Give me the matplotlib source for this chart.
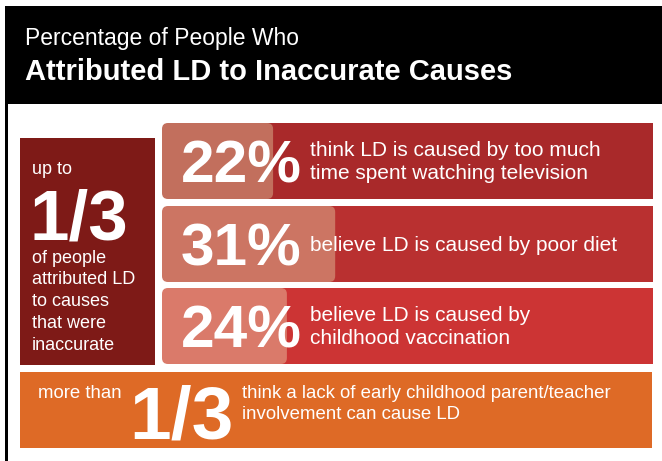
import matplotlib.pyplot as plt
from matplotlib.patches import Rectangle, FancyBboxPatch

# data
title_lines = ["Percentage of People Who", "Attributed LD to Inaccurate Causes"]
left_top = "up to"
left_big = "1/3"
left_bottom = ["of people", "attributed LD", "to causes", "that were", "inaccurate"]
pct_values = [22, 31, 24]
pct_labels = [
    "think LD is caused by too much\ntime spent watching television",
    "believe LD is caused by poor diet",
    "believe LD is caused by\nchildhood vaccination",
]
bottom_pre = "more than"
bottom_big = "1/3"
bottom_text = "think a lack of early childhood parent/teacher\ninvolvement can cause LD"

row_colors = ["#A9292A", "#B93030", "#CC3434"]
light_colors = ["#C26F5D", "#CC7563", "#DA7A6A"]
dark_red = "#7E1A17"
orange = "#DE6A26"

plt.rcParams["font.family"] = ["Liberation Sans", "DejaVu Sans"]

fig = plt.figure(figsize=(6.62, 4.61), dpi=100)
ax = fig.add_axes([0, 0, 1, 1])
ax.set_xlim(0, 662)
ax.set_ylim(461, 0)
ax.axis("off")

# header + left frame line
ax.add_patch(Rectangle((5, 6), 657, 98, color="black", lw=0))
ax.add_patch(Rectangle((5, 104), 2.5, 357, color="black", lw=0))
ax.text(25, 38, title_lines[0], color="white", fontsize=16.5, va="center")
ax.text(25, 72, title_lines[1], color="white", fontsize=21, fontweight="bold", va="center")

# left summary box
ax.add_patch(Rectangle((20, 138), 135, 227, color=dark_red, lw=0))
ax.text(32, 169, left_top, color="white", fontsize=13, va="center")
ax.text(29, 239, left_big, color="white", fontsize=51, fontweight="bold", va="baseline")
for i, line in enumerate(left_bottom):
    ax.text(32, 258 + i * 21.8, line, color="white", fontsize=13, va="center")

# rows, light box width scales with the percentage
row_x0, row_x1 = 162, 653
row_tops = [123, 206, 288]
row_h = 76
px_per_pct, pct_zero = 6.9, 5.9
for top, v, label, c, lc in zip(row_tops, pct_values, pct_labels, row_colors, light_colors):
    ax.add_patch(Rectangle((row_x0 + 6, top), row_x1 - row_x0 - 6, row_h, color=c, lw=0))
    w = (v - pct_zero) * px_per_pct
    ax.add_patch(FancyBboxPatch((row_x0, top), w, row_h,
                                boxstyle="round,pad=0,rounding_size=6", color=lc, lw=0))
    cy = top + row_h / 2
    ax.text(181, cy + 21, f"{v}%", color="white", fontsize=43.5, fontweight="bold", va="baseline")
    ax.text(310, cy + 1, label, color="white", fontsize=15, va="center", linespacing=1.25)

# bottom orange band
ax.add_patch(Rectangle((20, 372), 632, 76, color=orange, lw=0))
ax.text(38, 393, bottom_pre, color="white", fontsize=13.4, va="center")
ax.text(129, 438, bottom_big, color="white", fontsize=54, fontweight="bold", va="baseline")
ax.text(242, 404, bottom_text, color="white", fontsize=13.4, va="center", linespacing=1.38)

fig.savefig("out.png", dpi=100)
